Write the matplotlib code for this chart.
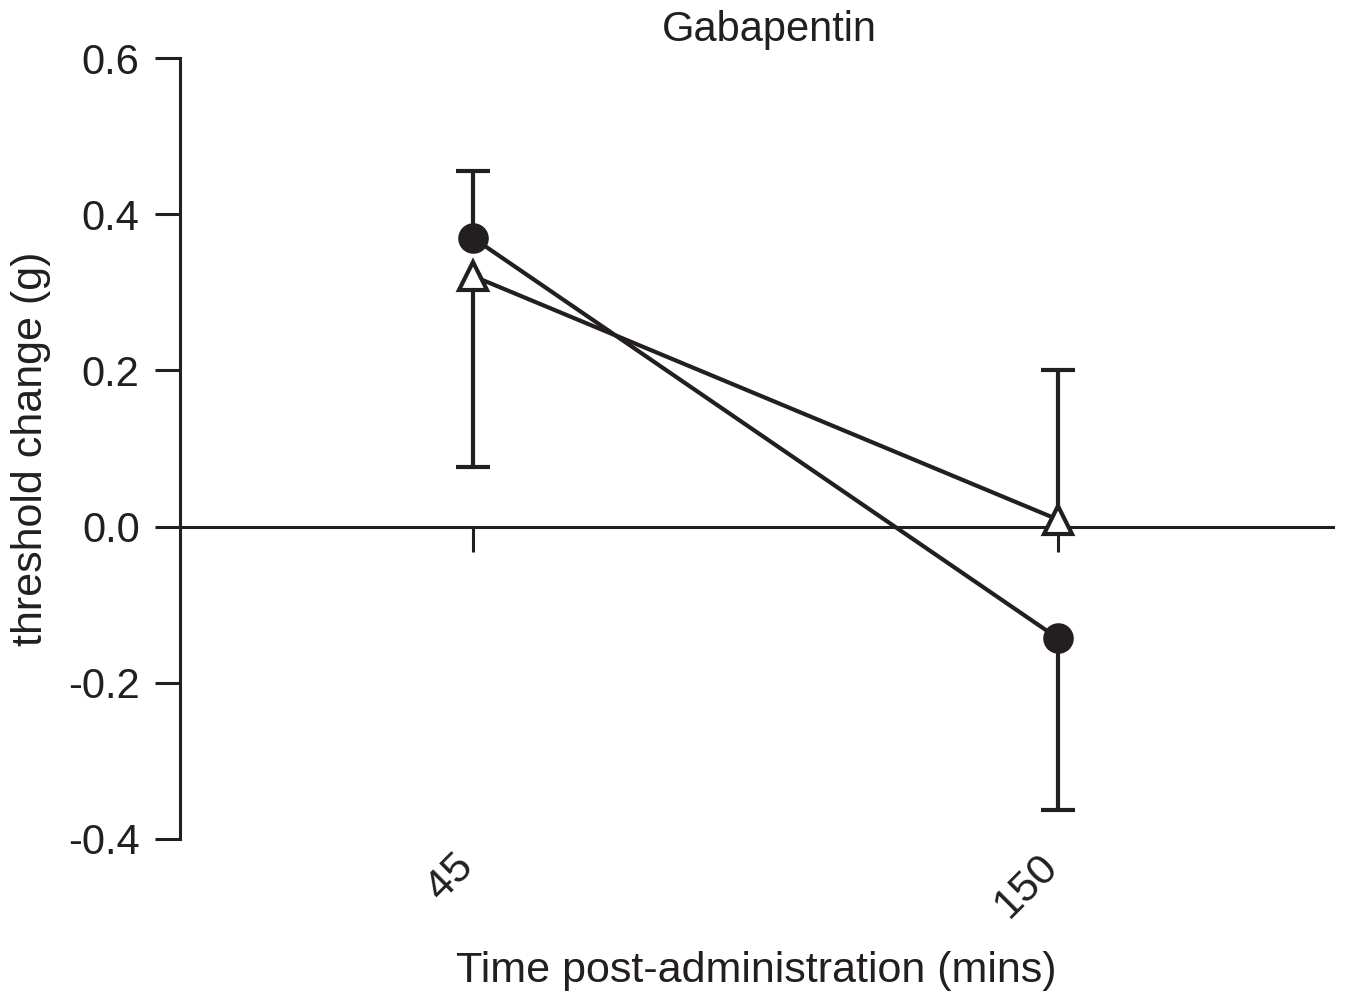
import numpy as np
import matplotlib
matplotlib.use('Agg')
import matplotlib.pyplot as plt
import matplotlib.transforms as mtransforms

plt.rcParams['font.family'] = ['Liberation Sans', 'DejaVu Sans']

# data
times = ['45', '150']
circle_mean = [0.370, -0.143]
circle_err_up = [0.085, 0.0]
circle_err_down = [0.0, 0.220]
triangle_mean = [0.321, 0.009]
triangle_err_up = [0.0, 0.192]
triangle_err_down = [0.245, 0.0]

ink = '#231f20'
lw = 3.0
fs = 30

fig = plt.figure(figsize=(13.45, 10.02), dpi=100)
ax = fig.add_axes([180 / 1345, 1 - 839 / 1002, 1153 / 1345, 781 / 1002])

x = np.arange(len(times))


def one_sided_bars(mean, up, down):
    # each point only has its bar on one side, so draw stems and caps by hand
    mean = np.asarray(mean)
    up = np.asarray(up)
    down = np.asarray(down)
    ends = np.where(up > 0, mean + up, mean - down)
    ax.vlines(x, mean, ends, color=ink, lw=lw, zorder=2)
    ax.plot(x, ends, ls='none', marker='_', markersize=25, markeredgewidth=lw,
            color=ink, zorder=2)


one_sided_bars(circle_mean, circle_err_up, circle_err_down)
one_sided_bars(triangle_mean, triangle_err_up, triangle_err_down)

# series
ax.plot(x, circle_mean, color=ink, lw=lw, marker='o', markersize=21,
        markerfacecolor=ink, markeredgecolor=ink, zorder=4)
ax.plot(x, triangle_mean, color=ink, lw=lw, marker='^', markersize=20,
        markerfacecolor='white', markeredgecolor=ink, markeredgewidth=lw, zorder=3)

ax.set_xlim(-0.5, 1.47)
ax.set_ylim(-0.4, 0.6)
ax.set_yticks([-0.4, -0.2, 0.0, 0.2, 0.4, 0.6])
ax.set_yticklabels(['-0.4', '-0.2', '0.0', '0.2', '0.4', '0.6'])
ax.set_xticks(x)
ax.set_xticklabels(times)

for s in ['top', 'right']:
    ax.spines[s].set_visible(False)
ax.spines['bottom'].set_position(('data', 0))
for s in ['left', 'bottom']:
    ax.spines[s].set_linewidth(2.2)
    ax.spines[s].set_color(ink)

ax.tick_params(axis='y', direction='out', length=18, width=2.2, color=ink,
               labelsize=fs, pad=11, labelcolor=ink)
ax.tick_params(axis='x', direction='out', length=18, width=2.2, color=ink,
               labelsize=fs + 1, pad=212, labelcolor=ink, labelrotation=45)
shift = mtransforms.ScaledTranslation(6 / 72, 0, fig.dpi_scale_trans)
for lab in ax.get_xticklabels():
    lab.set_ha('right')
    lab.set_va('top')
    lab.set_transform(lab.get_transform() + shift)

ax.set_xlabel('Time post-administration (mins)', fontsize=fs + 1, color=ink)
ax.xaxis.set_label_coords(0.5, -0.143)
ax.set_ylabel('threshold change (g)', fontsize=fs + 1, color=ink)
ax.yaxis.set_label_coords(-0.112, 0.5)

ax.text(0.511, 1.01, 'Gabapentin', transform=ax.transAxes, ha='center',
        va='bottom', fontsize=fs, color=ink)

fig.savefig('out.png', dpi=100)
